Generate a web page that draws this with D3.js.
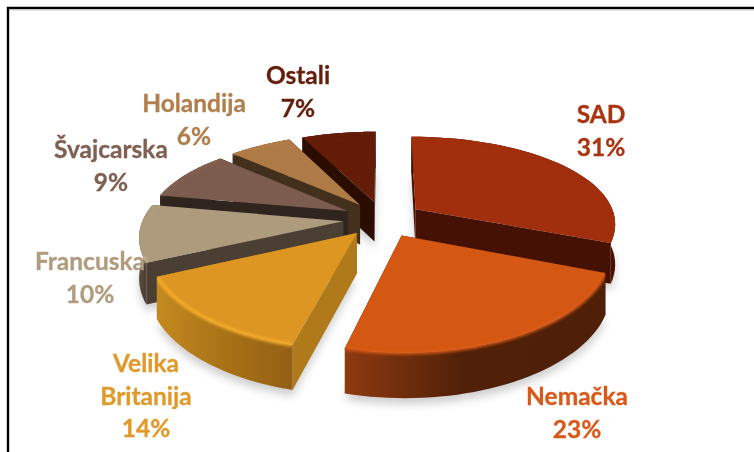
<!DOCTYPE html>
<html>
<head>
<meta charset="utf-8">
<script src="https://cdn.jsdelivr.net/npm/d3@7"></script>
<style>
  html, body { margin: 0; padding: 0; background: #fff; }
  svg { display: block; }
  text { font-family: Lato, "Noto Sans", sans-serif; font-weight: 700; font-size: 24.5px; text-anchor: middle; stroke-width: 0.3px; }
</style>
</head>
<body>
<div id="plotviz"></div>
<script>
const names = ["SAD", "Nemačka", "Velika Britanija", "Francuska", "Švajcarska", "Holandija", "Ostali"];
const shares = [31, 23, 14, 10, 9, 6, 7];

const topColors = ["#a12e0c", "#d45713", "#dd9622", "#ae9a7c", "#7c5c4e", "#ae7a46", "#621c08"];
const wallColors = ["#451105", "#451105", "#b07a1a", "#4b3f33", "#30241f", "#43301c", "#2a0d00"];
const sideLeft = ["#451105", "#8e3a10", "#c48a20", "#5b4e3e", "#30241f", "#43301c", "#2a0d00"];
const sideMid = ["#451105", "#512008", "#ab7418", "#4b3f33", "#30241f", "#43301c", "#2a0d00"];
const sideRight = ["#451105", "#4f1f08", "#935f14", "#4b3f33", "#30241f", "#43301c", "#2a0d00"];
const rimColors = ["#a12e0c", "#dc5c16", "#f7ae2b", "#c6b294", "#84634f", "#b4804b", "#681e0a"];
const textColors = ["#a93410", "#d8591a", "#e09a2c", "#b09c7e", "#7f6052", "#b07f4c", "#651e0b"];

// text lines and where they sit, same order as names
const labelLines = [["SAD"], ["Nemačka"], ["Velika", "Britanija"], ["Francuska"], ["Švajcarska"], ["Holandija"], ["Ostali"]];
const labelPos = [[601, 123], [577, 405], [146, 372], [90, 270], [111, 158], [194, 112], [298, 84]];
const lineGap = 32.5;

// back to front
const drawOrder = [6, 5, 4, 0, 3, 2, 1];

const width = 754, height = 452;
const cx = 383, cy = 219, rx = 200, ry = 89;
const perspX = 0.15, perspY = 0.183, explode = 0.2, depth = 40;

const svg = d3.select("#plotviz").append("svg").attr("width", width).attr("height", height);
const defs = svg.append("defs");
defs.append("filter").attr("id", "shadowBlur").attr("x", "-20%").attr("y", "-20%").attr("width", "140%").attr("height", "140%")
  .append("feGaussianBlur").attr("stdDeviation", 4);
defs.append("filter").attr("id", "rimBlur").attr("x", "-10%").attr("y", "-10%").attr("width", "120%").attr("height", "120%")
  .append("feGaussianBlur").attr("stdDeviation", 1.6);

// ground plane -> screen, front of the pie is bigger
function project(X, Y, drop) {
  const sx = 1 / (1 - perspX * Y);
  const sy = 1 / (1 - perspY * Y);
  return [cx + X * rx * sx, cy + Y * ry * sy + (drop || 0) * (0.5 + 0.5 * sy)];
}

const pie = d3.pie().sort(null).startAngle(0).endAngle(2 * Math.PI);
const arcs = pie(shares);
const line = d3.line();

const slices = arcs.map((a, i) => {
  const mid = (a.startAngle + a.endAngle) / 2;
  const ox = explode * Math.sin(mid), oy = -explode * Math.cos(mid);
  const steps = d3.range(0, 41).map(k => a.startAngle + (a.endAngle - a.startAngle) * k / 40);
  const ground = steps.map(t => [ox + Math.sin(t), oy - Math.cos(t)]);
  return {
    i,
    apexTop: project(ox, oy, 0),
    apexBot: project(ox, oy, depth),
    rimTop: ground.map(g => project(g[0], g[1], 0)),
    rimBot: ground.map(g => project(g[0], g[1], depth))
  };
});

// soft shadow on the page first
const shadows = svg.append("g").attr("filter", "url(#shadowBlur)").attr("opacity", 0.42);
slices.forEach(s => {
  shadows.append("path")
    .attr("d", line([s.apexBot, ...s.rimBot]) + "Z")
    .attr("transform", "translate(0,6)")
    .attr("fill", "#8c8c8c");
});

// page frame
svg.append("path").attr("d", line([[8, height], [8, 8], [width, 8]]))
  .attr("fill", "none").attr("stroke", "#000").attr("stroke-width", 2.4);
svg.append("path").attr("d", line([[10, 10], [width, 10]]))
  .attr("fill", "none").attr("stroke", "#c8c8c8").attr("stroke-width", 1);

const pieG = svg.append("g");
drawOrder.forEach(idx => {
  const s = slices[idx];
  const xs = d3.extent(s.rimTop, p => p[0]);
  const gradId = "side" + idx;
  const grad = defs.append("linearGradient").attr("id", gradId)
    .attr("gradientUnits", "userSpaceOnUse")
    .attr("x1", xs[0]).attr("x2", xs[1]).attr("y1", 0).attr("y2", 0);
  grad.append("stop").attr("offset", 0).attr("stop-color", sideLeft[idx]);
  grad.append("stop").attr("offset", 0.45).attr("stop-color", sideMid[idx]);
  grad.append("stop").attr("offset", 1).attr("stop-color", sideRight[idx]);

  const g = pieG.append("g");
  const first = s.rimTop[0], firstB = s.rimBot[0];
  const last = s.rimTop[s.rimTop.length - 1], lastB = s.rimBot[s.rimBot.length - 1];
  const outerD = line([...s.rimTop, ...s.rimBot.slice().reverse()]) + "Z";
  const topD = line([s.apexTop, ...s.rimTop]) + "Z";

  // two cut walls
  g.append("path").attr("d", line([s.apexTop, first, firstB, s.apexBot]) + "Z").attr("fill", wallColors[idx]);
  g.append("path").attr("d", line([s.apexTop, last, lastB, s.apexBot]) + "Z").attr("fill", wallColors[idx]);
  // outer wall
  g.append("path").attr("d", outerD).attr("fill", `url(#${gradId})`);
  // top
  g.append("path").attr("d", topD).attr("fill", topColors[idx]);
  // bevel on the rim, kept inside the slice so it does not halo on the white
  const clipId = "clip" + idx;
  const clip = defs.append("clipPath").attr("id", clipId);
  clip.append("path").attr("d", outerD);
  clip.append("path").attr("d", topD);
  g.append("g").attr("clip-path", `url(#${clipId})`)
    .append("path").attr("d", line(s.rimTop))
    .attr("fill", "none").attr("stroke", rimColors[idx]).attr("stroke-width", 3.5)
    .attr("filter", "url(#rimBlur)");
});

// labels
names.forEach((name, i) => {
  const lines = [...labelLines[i], shares[i] + "%"];
  lines.forEach((t, k) => {
    svg.append("text")
      .attr("x", labelPos[i][0])
      .attr("y", labelPos[i][1] + k * lineGap)
      .attr("fill", textColors[i])
      .attr("stroke", textColors[i])
      .text(t);
  });
});
</script>
</body>
</html>
